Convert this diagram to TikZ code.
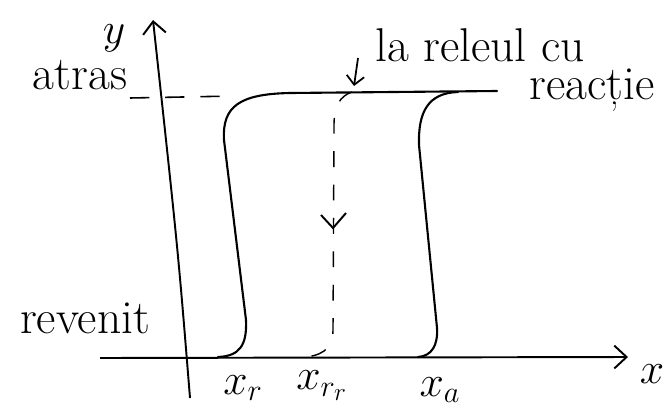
\documentclass[tikz,border=0pt]{standalone}
\usepackage{fontspec}
\usepackage{tikz}
\usetikzlibrary{arrows.meta}

\tikzset{
  axis/.style={line width=1.1pt, -{Straight Barb[length=7pt,width=13pt]}},
  curve/.style={line width=1.2pt, line cap=round},
  guide/.style={line width=0.9pt, dash pattern=on 11pt off 9pt},
  lbl/.style={font=\fontsize{27}{31}\selectfont, inner sep=0pt},
}

\begin{document}
\begin{tikzpicture}[x=0.02cm, y=-0.02cm]
  \useasboundingbox (0,0) rectangle (671,412);

  % Axes
  \draw[axis] (100,358) -- (628,357);
  \draw[axis] (190,398) .. controls (178,250) .. (153,20);

  % Level of the attracted state
  \draw[guide] (130,98) -- (235,96);

  % Return branch (x_r)
  \draw[curve] (218,357) .. controls (240,356) and (247,345) .. (246,320)
    -- (224,140) .. controls (222,106) and (240,94) .. (290,93) -- (497,91);

  % Attraction branch (x_a)
  \draw[curve] (418,357) .. controls (432,356) and (438,345) .. (437,328)
    -- (419,145) .. controls (418,112) and (428,93) .. (458,92);

  % Branch with feedback relay
  \draw[line width=0.8pt, dash pattern=on 9pt off 10pt]
    (352,92) .. controls (340,96) and (334,106) .. (334,125)
    -- (333,330) .. controls (333,350) and (320,357) .. (300,357);
  \draw[line width=1.1pt] (321,215) -- (333,228) -- (346,213);

  % Labels
  \node[lbl] (ylab) at (114,38) {$y$};
  \node[lbl] (atras) at (80,75) {atras};
  \node[lbl] (revenit) at (85,318) {revenit};
  \node[lbl] (releu) at (480,45) {la releul cu};
  \node[lbl] (reactie) at (592,90) {reacție};
  \node[lbl] (xr) at (243,388) {$x_r$};
  \node[lbl] (xrr) at (322,386) {$x_{r_r}$};
  \node[lbl] (xa) at (440,390) {$x_a$};
  \node[lbl] (xlab) at (652,374) {$x$};

  % Pointer to the feedback branch
  \coordinate (ptail) at (358,58);
  \coordinate (ptip) at (354,86);
  \draw[line width=1pt, -{Straight Barb[length=5pt,width=10pt]}] (ptail) -- (ptip);
\end{tikzpicture}
\end{document}
